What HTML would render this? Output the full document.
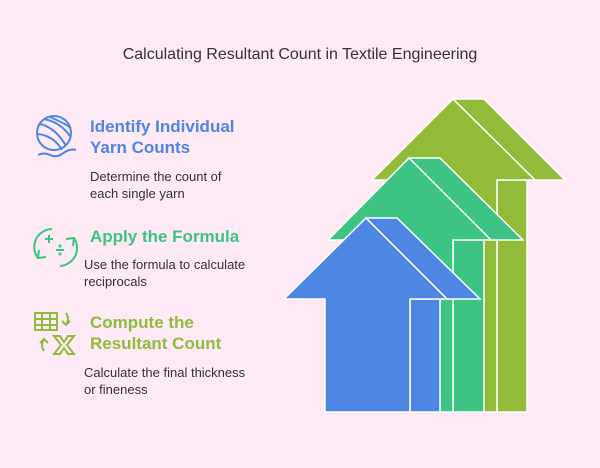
<!DOCTYPE html>
<html><head><style>
body{margin:0;width:600px;height:468px;background:#fdeaf5;position:relative;overflow:hidden;font-family:"Liberation Sans",sans-serif}
.t{position:absolute;white-space:nowrap}
.h{font-weight:bold;font-size:17px;line-height:21px}
.d{font-size:13px;color:#333;line-height:17px}
</style></head><body>
<div class="t" style="left:0;width:600px;text-align:center;top:46px;font-size:16px;color:#333">Calculating Resultant Count in Textile Engineering</div>
<div class="t h" style="left:90px;top:116px;color:#4e86e4">Identify Individual<br>Yarn Counts</div>
<div class="t d" style="left:90px;top:168px">Determine the count of<br>each single yarn</div>
<div class="t h" style="left:90px;top:226px;color:#3dc484">Apply the Formula</div>
<div class="t d" style="left:84px;top:256px">Use the formula to calculate<br>reciprocals</div>
<div class="t h" style="left:90px;top:312px;color:#8fbb3e">Compute the<br>Resultant Count</div>
<div class="t d" style="left:84px;top:364px">Calculate the final thickness<br>or fineness</div>
<svg width="600" height="468" style="position:absolute;left:0;top:0">
<g fill="none" stroke="#4e86e4" stroke-width="2">
<circle cx="54" cy="133" r="17"/>
<path d="M40 124 Q56 128 66 146 M38 134 Q54 136 62 150 M44 119 Q60 122 70 136 M50 117 Q66 124 71 128"/>
<path d="M38 155 Q44 152 50 155 Q56 158 62 154 Q70 148 76 150"/>
</g>
<g fill="none" stroke="#3dc484" stroke-width="2">
<path d="M52 229 A18 18 0 0 0 38 258 M39 250 l-1 8 8 -1"/>
<path d="M60 266 A18 18 0 0 0 74 238 M73 246 l1 -8 -8 1"/>
<path d="M49 235 v8 M45 239 h8 M56 250 h8"/><circle cx="60" cy="246" r="0.6"/><circle cx="60" cy="254" r="0.6"/>
</g>
<g fill="none" stroke="#8fbb3e" stroke-width="2">
<rect x="35" y="313" width="22" height="17"/><path d="M35 319h22M35 325h22M42 313v17M50 313v17"/>
<path d="M66 313 q4 6 0 12 M62 321 l4 4 4 -4"/>
<path d="M44 351 q-4 -6 0 -12 M40 343 l4 -4 4 4"/>
<path d="M54 336 h6 l4 6 4 -6 h6 l-7 9 7 9 h-6 l-4 -6 -4 6 h-6 l7 -9z"/>
</g>
<g stroke="#fff" stroke-width="1.5" stroke-linejoin="miter">
<g fill="#93bb3a">
<polygon points="497,180 527,180 527,412 497,412"/>
<polygon points="453,99 484,99 565,180 535,180"/>
<polygon points="412,412 412,180 372,180 453,99 535,180 497,180 497,412"/>
</g>
<g fill="#3dc484">
<polygon points="453,240 484,240 484,412 453,412"/>
<polygon points="409,158 440,158 523,240 491,240"/>
<polygon points="368,412 368,240 328,240 409,158 491,240 453,240 453,412"/>
</g>
<g fill="#4e86e4">
<polygon points="410,299 440,299 440,412 410,412"/>
<polygon points="366,218 397,218 480,299 447,299"/>
<polygon points="325,412 325,299 284,299 366,218 447,299 410,299 410,412"/>
</g>
</g>
</svg>
</body></html>
